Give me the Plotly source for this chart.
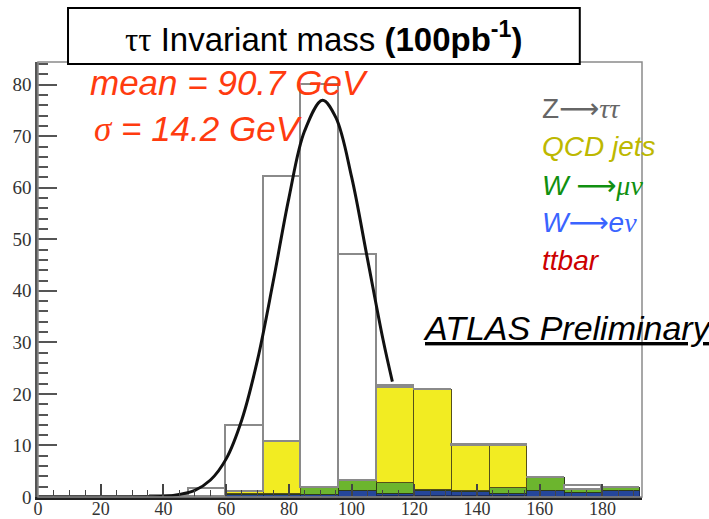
import plotly.graph_objects as go

# ---- data ----
bin_centers = [6, 18, 30, 42, 54, 66, 78, 90, 102, 114, 126, 138, 150, 162, 174, 186]
ttbar  = [0, 0, 0, 0, 0, 0, 0, 0, 0, 0.1, 0.1, 0.1, 0.1, 0, 0, 0]
w_enu  = [0, 0, 0, 0, 0, 0.3, 0.3, 0.3, 1.2, 0.4, 1.1, 0.9, 0.4, 1.2, 0.7, 1.2]
w_munu = [0, 0, 0, 0, 0, 0.2, 0.2, 1.4, 1.9, 2.3, 0.1, 0.1, 1.2, 2.5, 0.7, 0.5]
qcd    = [0, 0, 0, 0, 0, 0.4, 10.1, 0, 0, 18.4, 19.5, 8.8, 8.2, 0, 0, 0]
ztautau = [0, 0, 0, 0.2, 1.5, 12.9, 51.4, 78.3, 43.9, 0.3, 0, 0.1, 0.1, 0, 0.8, 0.1]

fit_x = [0, 20, 40, 45, 50, 55, 60, 65, 70, 75, 80, 85, 90.7, 95, 100, 105, 110, 113]
fit_y = [0, 0, 0.13, 0.5, 1.3, 3.3, 7.4, 15.0, 26.6, 41.8, 58.0, 71.0, 77.0, 73.6, 62.1, 46.4, 30.6, 22.4]

x_ticks = [0, 20, 40, 60, 80, 100, 120, 140, 160, 180]
y_ticks = [0, 10, 20, 30, 40, 50, 60, 70, 80]

fig = go.Figure()

def add_bar(vals, fill, edge, width=1.3):
    fig.add_trace(go.Bar(
        x=bin_centers, y=vals, width=12,
        marker=dict(color=fill, line=dict(color=edge, width=width)),
        hoverinfo="skip", showlegend=False))

add_bar(ttbar, "#cc0000", "#333333")
add_bar(w_enu, "#25469a", "#1a2a5a")
add_bar(w_munu, "#6cb52e", "#2d3a1a")
add_bar(qcd, "#f2ec22", "#55501a")
add_bar(ztautau, "rgba(255,255,255,0)", "#8a8a8a", 1.6)

fig.add_trace(go.Scatter(
    x=fit_x, y=fit_y, mode="lines", line=dict(color="#111111", width=3, shape="spline"),
    hoverinfo="skip", showlegend=False))

fig.update_layout(
    width=709, height=519,
    margin=dict(l=38, r=67, t=62, b=22, autoexpand=False),
    paper_bgcolor="white", plot_bgcolor="white",
    barmode="stack", bargap=0,
    showlegend=False,
)

fig.update_xaxes(
    range=[0, 192.6], tickvals=x_ticks, ticktext=[str(v) for v in x_ticks],
    ticks="inside", ticklen=13, tickwidth=1.5, tickcolor="#444",
    showline=True, linecolor="#222", linewidth=2.5, showgrid=False, zeroline=False,
    tickfont=dict(family="Liberation Serif", size=18, color="#333"),
    ticklabelstandoff=-6,
    minor=dict(ticks="inside", dtick=5, ticklen=7, tickwidth=1.2, tickcolor="#444"),
    automargin=False,
)
fig.update_yaxes(
    range=[0, 84.4], tickvals=y_ticks, ticktext=[str(v) for v in y_ticks],
    ticks="inside", ticklen=19, tickwidth=1.8, tickcolor="#555",
    showline=True, linecolor="#555", linewidth=2.5, showgrid=False, zeroline=False,
    tickfont=dict(family="Liberation Serif", size=19, color="#333"),
    minor=dict(ticks="inside", dtick=2, ticklen=10, tickwidth=1.5, tickcolor="#555"),
    automargin=False,
)

# frame (top and right)
fig.add_shape(type="rect", xref="x domain", yref="y domain", x0=0, x1=1, y0=0, y1=1,
              line=dict(color="#8a8a8a", width=1.5), fillcolor="rgba(0,0,0,0)", layer="above")

# title box
fig.add_shape(type="rect", xref="paper", yref="paper", x0=0.0497, x1=0.897, y0=0.9954, y1=1.124,
              line=dict(color="black", width=2), fillcolor="white", layer="above")
fig.add_annotation(xref="paper", yref="paper", x=0.4735, y=1.058, showarrow=False,
                   xanchor="center", yanchor="middle",
                   text="<span style='font-family:Liberation Serif'>ττ</span> Invariant mass <b>(100pb<sup>-1</sup>)</b>",
                   font=dict(family="Liberation Sans", size=33, color="black"))

red = "#ff3b0f"
fig.add_annotation(xref="paper", yref="paper", x=0.0828, y=0.952, showarrow=False,
                   xanchor="left", yanchor="middle",
                   text="<i>mean = 90.7 GeV</i>",
                   font=dict(family="Liberation Sans", size=35, color=red))
fig.add_annotation(xref="paper", yref="paper", x=0.0894, y=0.846, showarrow=False,
                   xanchor="left", yanchor="middle",
                   text="<i><span style='font-family:Liberation Serif'>σ</span> = 14.2 GeV</i>",
                   font=dict(family="Liberation Sans", size=35, color=red))

ARROW = "<span style='font-family:DejaVu Sans;font-style:normal'>⟶</span>"
legend_items = [
    ("Z" + ARROW + "<i><span style='font-family:Liberation Serif'>ττ</span></i>", "#666666", 0.893),
    ("<i>QCD jets</i>", "#bdb800", 0.806),
    ("<i>W </i>" + ARROW + "<i><span style='font-family:Liberation Serif'>μν</span></i>", "#109010", 0.716),
    ("<i>W</i>" + ARROW + "<i>e<span style='font-family:Liberation Serif'>ν</span></i>", "#3a64ff", 0.631),
    ("<i>ttbar</i>", "#cc0000", 0.543),
]
for txt, col, yy in legend_items:
    fig.add_annotation(xref="paper", yref="paper", x=0.831, y=yy, showarrow=False,
                       xanchor="left", yanchor="middle", text=txt,
                       font=dict(family="Liberation Sans", size=28, color=col))

fig.add_annotation(xref="paper", yref="paper", x=0.634, y=0.389, showarrow=False,
                   xanchor="left", yanchor="middle",
                   text="<u><i>ATLAS Preliminary</i></u>",
                   font=dict(family="Liberation Sans", size=34, color="black"))

fig.write_html("out.html")
